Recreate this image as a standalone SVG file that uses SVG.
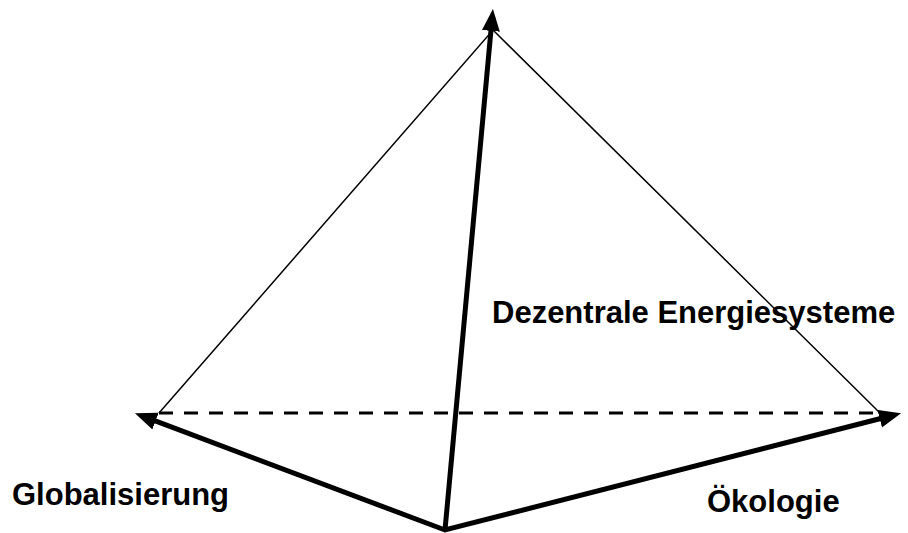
<svg xmlns="http://www.w3.org/2000/svg" width="908" height="533" viewBox="0 0 908 533">
<style>
.thin{fill:none;stroke:#000;stroke-width:1.5}
.dash{fill:none;stroke:#000;stroke-width:3;stroke-dasharray:14 11}
.thick{fill:none;stroke:#000;stroke-width:5;stroke-linejoin:miter}
.lbl{font-family:"Liberation Sans",Arial,sans-serif;font-weight:bold;font-size:31px;fill:#000}
</style>
<defs>
<marker id="ah" markerUnits="userSpaceOnUse" markerWidth="24" markerHeight="20" refX="1" refY="9" orient="auto-start-reverse">
<path d="M0,0 L22,9 L0,18 z" fill="#000"/>
</marker>
</defs>
<rect width="908" height="533" fill="#fff"/>
<g id="connectors">
<polyline class="thin" points="159,413 493,30 880,413"/>
<line class="dash" x1="159" y1="413" x2="880" y2="413"/>
<path class="thick" d="M154.6,420.7 L445,530 L880.7,418.5" marker-start="url(#ah)" marker-end="url(#ah)"/>
<line class="thick" x1="445" y1="530" x2="491" y2="29.9" marker-end="url(#ah)"/>
</g>
<g id="dezentrale"><text class="lbl" x="492" y="323">Dezentrale Energiesysteme</text></g>
<g id="globalisierung"><text class="lbl" x="12" y="505">Globalisierung</text></g>
<g id="oekologie"><text class="lbl" x="707" y="512">Ökologie</text></g>
</svg>
